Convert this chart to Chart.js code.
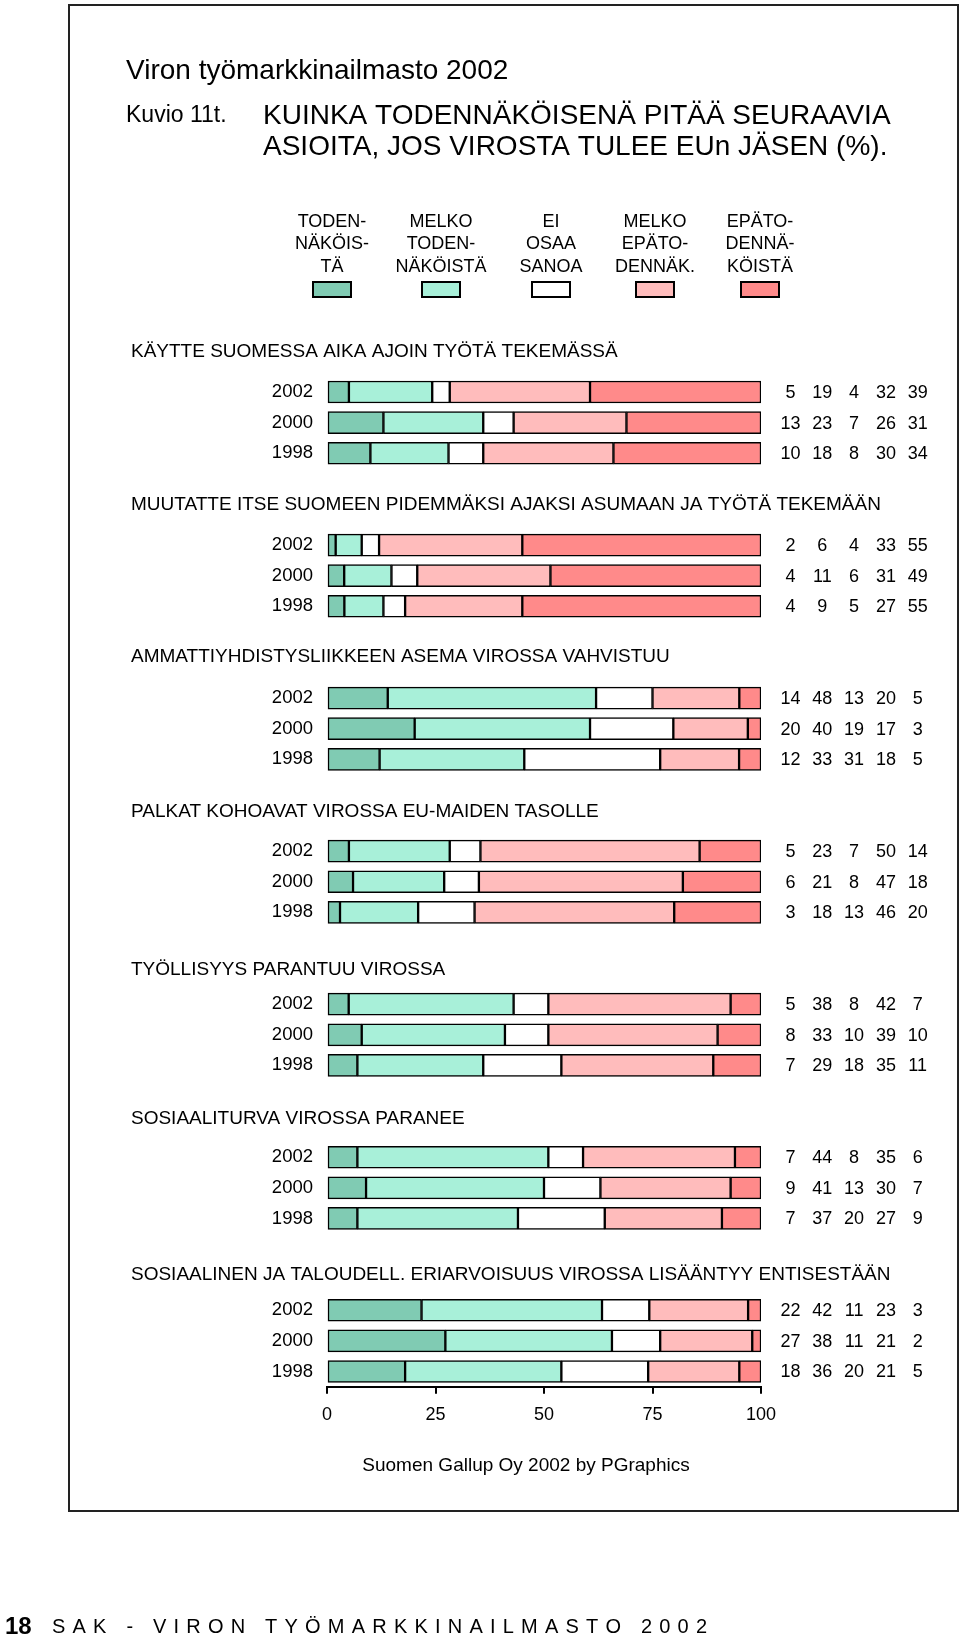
<!DOCTYPE html>
<html>
<head>
<meta charset="utf-8">
<script src="https://cdn.jsdelivr.net/npm/chart.js@4.4.0/dist/chart.umd.min.js"></script>
<style>
  body { margin: 0; background: #fff; }
  #page { position: relative; width: 960px; height: 1637px; overflow: hidden; background: #fff; }
  #frame { position: absolute; left: 68px; top: 4px; width: 887px; height: 1504px; border: 2px solid #222; }
  #chart { position: absolute; left: 0; top: 0; }
</style>
</head>
<body>
<div id="page">
  <div id="frame"></div>
  <canvas id="chart" width="960" height="1637"></canvas>
</div>
<script>
const FONT = '"Liberation Sans", Arial, Helvetica, sans-serif';

// years shown for every question
const years = ['2002', '2000', '1998'];

// answer categories (legend), drawn in this order left to right
const answers = [
    ['TODEN-', 'NÄKÖIS-', 'TÄ'],
    ['MELKO', 'TODEN-', 'NÄKÖISTÄ'],
    ['EI', 'OSAA', 'SANOA'],
    ['MELKO', 'EPÄTO-', 'DENNÄK.'],
    ['EPÄTO-', 'DENNÄ-', 'KÖISTÄ']
];
const colors = ['#80cbb3', '#a8f0d9', '#ffffff', '#ffbcbc', '#ff8a8a'];

const questions = [
    'KÄYTTE SUOMESSA AIKA AJOIN TYÖTÄ TEKEMÄSSÄ',
    'MUUTATTE ITSE SUOMEEN PIDEMMÄKSI AJAKSI ASUMAAN JA TYÖTÄ TEKEMÄÄN',
    'AMMATTIYHDISTYSLIIKKEEN ASEMA VIROSSA VAHVISTUU',
    'PALKAT KOHOAVAT VIROSSA EU-MAIDEN TASOLLE',
    'TYÖLLISYYS PARANTUU VIROSSA',
    'SOSIAALITURVA VIROSSA PARANEE',
    'SOSIAALINEN JA TALOUDELL. ERIARVOISUUS VIROSSA LISÄÄNTYY ENTISESTÄÄN'
];

// % per year (2002, 2000, 1998), answers in legend order
const kaytteSuomessa   = [[5, 19, 4, 32, 39], [13, 23, 7, 26, 31], [10, 18, 8, 30, 34]];
const muutatteSuomeen  = [[2, 6, 4, 33, 55], [4, 11, 6, 31, 49], [4, 9, 5, 27, 55]];
const ammattiyhdistys  = [[14, 48, 13, 20, 5], [20, 40, 19, 17, 3], [12, 33, 31, 18, 5]];
const palkatKohoavat   = [[5, 23, 7, 50, 14], [6, 21, 8, 47, 18], [3, 18, 13, 46, 20]];
const tyollisyys       = [[5, 38, 8, 42, 7], [8, 33, 10, 39, 10], [7, 29, 18, 35, 11]];
const sosiaaliturva    = [[7, 44, 8, 35, 6], [9, 41, 13, 30, 7], [7, 37, 20, 27, 9]];
const eriarvoisuus     = [[22, 42, 11, 23, 3], [27, 38, 11, 21, 2], [18, 36, 20, 21, 5]];

const xTicks = [0, 25, 50, 75, 100];

const values = [kaytteSuomessa, muutatteSuomeen, ammattiyhdistys, palkatKohoavat,
                tyollisyys, sosiaaliturva, eriarvoisuus];

// header y positions (page px) of the question titles
const headerY = [352, 505, 657, 812, 970, 1119, 1275];

// build category slots: 3 year rows per question, 2 empty slots between questions
const labels = [];
const slots = [];
questions.forEach((q, g) => {
    years.forEach((yr, r) => { labels.push(yr); slots.push([g, r]); });
    if (g < questions.length - 1) {
        labels.push('', '');
        slots.push(null, null);
    }
});

// the bars fill the whole 0-100 width like in the original (rounded sums are 99-101)
const datasets = answers.map((a, k) => ({
    label: a.join(' '),
    data: slots.map(s => {
        if (!s) return null;
        const row = values[s[0]][s[1]];
        const sum = row.reduce((t, v) => t + v, 0);
        return row[k] / sum * 100;
    }),
    backgroundColor: colors[k],
    borderColor: '#000',
    borderWidth: 1.5,
    borderSkipped: false,
    barThickness: 22
}));

const numbersPlugin = {
    id: 'numbers',
    afterDatasetsDraw(chart) {
        const ctx = chart.ctx;
        const yScale = chart.scales.y;
        const right = chart.chartArea.right;
        ctx.save();
        ctx.fillStyle = '#000';
        ctx.font = '18px ' + FONT;
        ctx.textAlign = 'center';
        ctx.textBaseline = 'middle';
        slots.forEach((s, i) => {
            if (!s) return;
            const y = yScale.getPixelForValue(i);
            values[s[0]][s[1]].forEach((v, k) => {
                ctx.fillText(String(v), right + 29.5 + k * 31.8, y + 1);
            });
        });
        ctx.restore();
    }
};

const pageTextPlugin = {
    id: 'pageText',
    afterDraw(chart) {
        const ctx = chart.ctx;
        ctx.save();
        ctx.fillStyle = '#000';
        ctx.textBaseline = 'middle';
        ctx.textAlign = 'left';

        ctx.font = '28px ' + FONT;
        ctx.fillText('Viron työmarkkinailmasto 2002', 126, 71);

        ctx.font = '23px ' + FONT;
        ctx.fillText('Kuvio 11t.', 126, 116);
        ctx.font = '28px ' + FONT;
        ctx.fillText('KUINKA TODENNÄKÖISENÄ PITÄÄ SEURAAVIA', 263, 116);
        ctx.fillText('ASIOITA, JOS VIROSTA TULEE EUn JÄSEN (%).', 263, 147);

        // legend
        const legendX = [332, 441, 551, 655, 760];
        ctx.textAlign = 'center';
        ctx.font = '18px ' + FONT;
        answers.forEach((lines, k) => {
            lines.forEach((t, j) => ctx.fillText(t, legendX[k], 222 + j * 22.5));
            ctx.fillStyle = colors[k];
            ctx.fillRect(legendX[k] - 19, 282, 38, 15);
            ctx.lineWidth = 2;
            ctx.strokeStyle = '#000';
            ctx.strokeRect(legendX[k] - 19, 282, 38, 15);
            ctx.fillStyle = '#000';
        });

        // question headers
        ctx.textAlign = 'left';
        ctx.font = '19px ' + FONT;
        questions.forEach((q, g) => ctx.fillText(q, 131, headerY[g]));

        ctx.textAlign = 'center';
        ctx.font = '19px ' + FONT;
        ctx.fillText('Suomen Gallup Oy 2002 by PGraphics', 526, 1466);

        // footer
        ctx.textAlign = 'left';
        ctx.font = 'bold 24px ' + FONT;
        ctx.fillText('18', 5, 1627);
        ctx.font = '20px ' + FONT;
        const foot = 'SAK - VIRON TYÖMARKKINAILMASTO 2002';
        const chars = [...foot];
        const natural = chars.reduce((t, c) => t + ctx.measureText(c).width, 0);
        const gap = (655 - natural) / (chars.length - 1);
        let fx = 52;
        chars.forEach(c => { ctx.fillText(c, fx, 1627); fx += ctx.measureText(c).width + gap; });
        ctx.restore();
    }
};

new Chart(document.getElementById('chart'), {
    type: 'bar',
    data: { labels: labels, datasets: datasets },
    plugins: [numbersPlugin, pageTextPlugin],
    options: {
        indexAxis: 'y',
        responsive: false,
        animation: false,
        layout: { padding: { left: 0, right: 199, top: 376.7, bottom: 210.2 } },
        plugins: { legend: { display: false }, tooltip: { enabled: false } },
        scales: {
            x: {
                type: 'linear',
                stacked: true,
                min: 0,
                max: 100,
                afterBuildTicks: s => { s.ticks = xTicks.map(v => ({ value: v })); },
                afterFit: s => { s.height = 40; },
                ticks: { color: '#000', font: { size: 18, family: FONT }, padding: 10 },
                grid: { drawOnChartArea: false, drawTicks: true, tickLength: 7, color: '#000', lineWidth: 2 },
                border: { display: true, color: '#000', width: 2 }
            },
            y: {
                type: 'category',
                stacked: true,
                afterFit: s => { s.width = 327; },
                ticks: { color: '#000', font: { size: 18.5, family: FONT }, padding: 14, autoSkip: false },
                grid: { display: false, drawTicks: false },
                border: { display: false }
            }
        }
    }
});
</script>
</body>
</html>
